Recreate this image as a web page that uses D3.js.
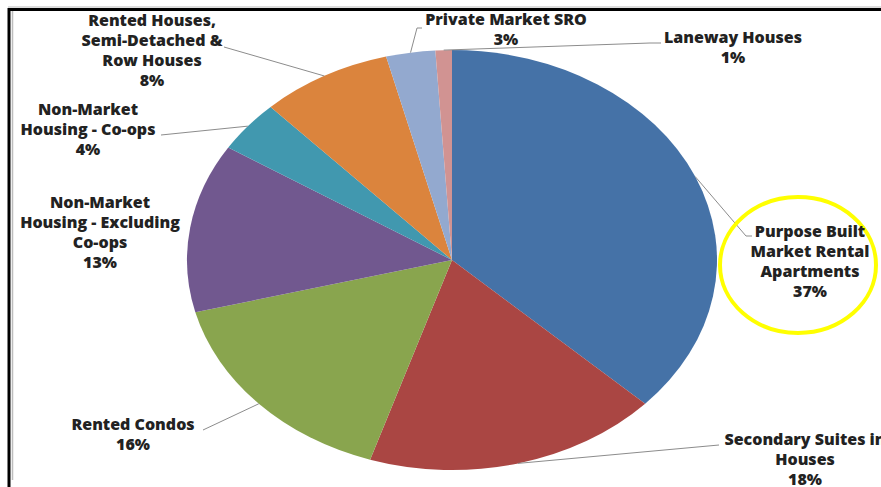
<!DOCTYPE html>
<html>
<head>
<meta charset="utf-8">
<script src="https://cdn.jsdelivr.net/npm/d3@7"></script>
<style>
  body { margin: 0; background: #fff; }
  svg { display: block; }
  .lbl { font-family: "Open Sans", Lato, sans-serif; font-weight: 800; font-size: 16px; fill: #222; }
</style>
</head>
<body>
<svg width="881" height="487"></svg>
<script>
// data
var categories = [
  ["Purpose Built", "Market Rental", "Apartments"],
  ["Secondary Suites in", "Houses"],
  ["Rented Condos"],
  ["Non-Market", "Housing - Excluding", "Co-ops"],
  ["Non-Market", "Housing - Co-ops"],
  ["Rented Houses,", "Semi-Detached &", "Row Houses"],
  ["Private Market SRO"],
  ["Laneway Houses"]
];
var values = [37, 18, 16, 13, 4, 8, 3, 1];
var colors = ["#4572a7", "#aa4643", "#89a54e", "#71588f", "#4198af", "#db843d", "#93a9cf", "#d19392"];

// label placement: centre x, first line y, leader end points
var labelPos = [
  {x: 810, y: 232, lead: [[746, 236], [752, 236]]},
  {x: 805, y: 440, lead: [[719, 445]]},
  {x: 133, y: 425, lead: [[203, 430]]},
  {x: 100, y: 203, lead: null},
  {x: 88,  y: 110, lead: [[161, 135]]},
  {x: 152, y: 21,  lead: [[224, 47]]},
  {x: 506, y: 20,  lead: [[417, 28], [422, 28]]},
  {x: 733, y: 38,  lead: [[650, 43], [661, 43]]}
];

var svg = d3.select("svg");
var cx = 452, cy = 260, rx = 265, ry = 210;

svg.append("rect").attr("width", 881).attr("height", 487).attr("fill", "#fff");

// frame
svg.append("line").attr("x1", 8).attr("x2", 881).attr("y1", 7).attr("y2", 7)
  .attr("stroke", "#bbb").attr("stroke-width", 1);
svg.append("line").attr("x1", 9).attr("x2", 881).attr("y1", 9.5).attr("y2", 9.5)
  .attr("stroke", "#000").attr("stroke-width", 3);
svg.append("line").attr("x1", 9).attr("x2", 9).attr("y1", 8).attr("y2", 487)
  .attr("stroke", "#000").attr("stroke-width", 3);
svg.append("line").attr("x1", 12.5).attr("x2", 12.5).attr("y1", 11).attr("y2", 480)
  .attr("stroke", "#bdbdbd").attr("stroke-width", 1.5);

var pie = d3.pie().sort(null).value(function(d) { return d; });
var arcs = pie(values);
var arc = d3.arc().innerRadius(0).outerRadius(ry);

var g = svg.append("g")
  .attr("transform", "translate(" + cx + "," + cy + ") scale(" + (rx / ry) + ",1)");

g.selectAll("path")
  .data(arcs)
  .enter().append("path")
  .attr("d", arc)
  .attr("fill", function(d, i) { return colors[i]; });

// leader lines
function edgePoint(d) {
  var a = (d.startAngle + d.endAngle) / 2;
  return [cx + rx * Math.sin(a), cy - ry * Math.cos(a)];
}

svg.append("g").selectAll("polyline")
  .data(arcs.filter(function(d, i) { return labelPos[i].lead; }))
  .enter().append("polyline")
  .attr("points", function(d) {
    var pts = [edgePoint(d)].concat(labelPos[d.index].lead);
    return pts.map(function(p) { return p.join(","); }).join(" ");
  })
  .attr("fill", "none")
  .attr("stroke", "#8c8c8c")
  .attr("stroke-width", 1);

// highlight
svg.append("ellipse")
  .attr("cx", 798).attr("cy", 265).attr("rx", 78).attr("ry", 68)
  .attr("fill", "none").attr("stroke", "#ffff00").attr("stroke-width", 4);

// labels
var labels = svg.append("g").selectAll("text")
  .data(arcs)
  .enter().append("text")
  .attr("class", "lbl")
  .attr("text-anchor", "middle")
  .attr("x", function(d, i) { return labelPos[i].x; })
  .attr("y", function(d, i) { return labelPos[i].y + 5; });

labels.each(function(d, i) {
  var t = d3.select(this);
  var lines = categories[i].concat([values[i] + "%"]);
  lines.forEach(function(s, k) {
    t.append("tspan")
      .attr("x", labelPos[i].x)
      .attr("dy", k === 0 ? 0 : 20)
      .text(s);
  });
});
</script>
</body>
</html>
